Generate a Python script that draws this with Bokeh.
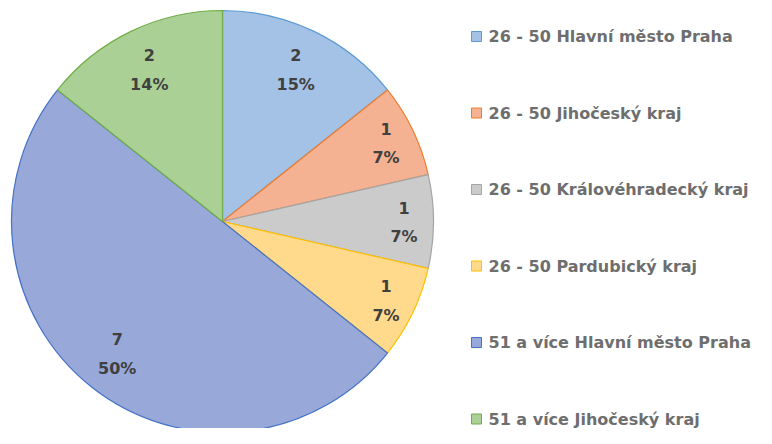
import math
from bokeh.plotting import figure
from bokeh.models import Range1d, ColumnDataSource
from bokeh.core.properties import value
from bokeh.embed import file_html
from bokeh.resources import INLINE

categories = ["26 - 50 Hlavní město Praha", "26 - 50 Jihočeský kraj",
              "26 - 50 Královéhradecký kraj", "26 - 50 Pardubický kraj",
              "51 a více Hlavní město Praha", "51 a více Jihočeský kraj"]
values = [2, 1, 1, 1, 7, 2]
pct_labels = ["15%", "7%", "7%", "7%", "50%", "14%"]

fills = ["#A4C2E6", "#F4B292", "#CBCBCB", "#FFD98C", "#97A8D9", "#ABD096"]
lines = ["#5B9BD5", "#ED7D31", "#A5A5A5", "#FFC000", "#4472C4", "#70AD47"]

W, H = 756, 428
p = figure(width=W, height=H, output_backend="svg", toolbar_location=None,
           x_range=Range1d(0, W), y_range=Range1d(0, H),
           x_axis_location=None, y_axis_location=None, min_border=0)
p.grid.visible = False
p.outline_line_color = None

def sy(y):  # top-down pixel y -> data y
    return H - y

cx, cy, r = 222, sy(221), 211
total = sum(values)
starts, ends, lx, ly = [], [], [], []
cum = 0
for v in values:
    a0 = math.pi / 2 - 2 * math.pi * cum / total
    cum += v
    a1 = math.pi / 2 - 2 * math.pi * cum / total
    starts.append(a0)
    ends.append(a1)
    mid = (a0 + a1) / 2
    f = 0.86 if v / total < 0.1 else 0.8
    lx.append(cx + f * r * math.cos(mid))
    ly.append(cy + f * r * math.sin(mid))

src = ColumnDataSource(dict(start=starts, end=ends, fill=fills, line=lines,
                            lx=lx, ly=ly, val=[str(v) for v in values], pct=pct_labels))
p.wedge(x=cx, y=cy, radius=r, start_angle="start", end_angle="end", direction="clock",
        fill_color="fill", line_color="line", line_width=1.2, source=src)
lbl = dict(text_align="center", text_baseline="middle",
           text_font=value("DejaVu Sans"), text_font_style="bold", text_font_size="16px",
           text_color="#404040", source=src)
p.text(x="lx", y="ly", text="val", y_offset=-14, **lbl)
p.text(x="lx", y="ly", text="pct", y_offset=15, **lbl)

# legend
ly0, step = 36, 76.5
leg_y = [sy(ly0 + i * step) for i in range(len(categories))]
lsrc = ColumnDataSource(dict(y=leg_y, fill=fills, line=lines, cat=categories))
p.rect(x=476, y="y", width=10, height=10, fill_color="fill", line_color="line",
       line_width=1, source=lsrc)
p.text(x=488, y="y", text="cat", text_align="left", text_baseline="middle",
       text_font=value("DejaVu Sans"), text_font_style="bold", text_font_size="16px",
       text_color="#6E6E6E", source=lsrc)

open("out.html", "w").write(file_html(p, INLINE))
